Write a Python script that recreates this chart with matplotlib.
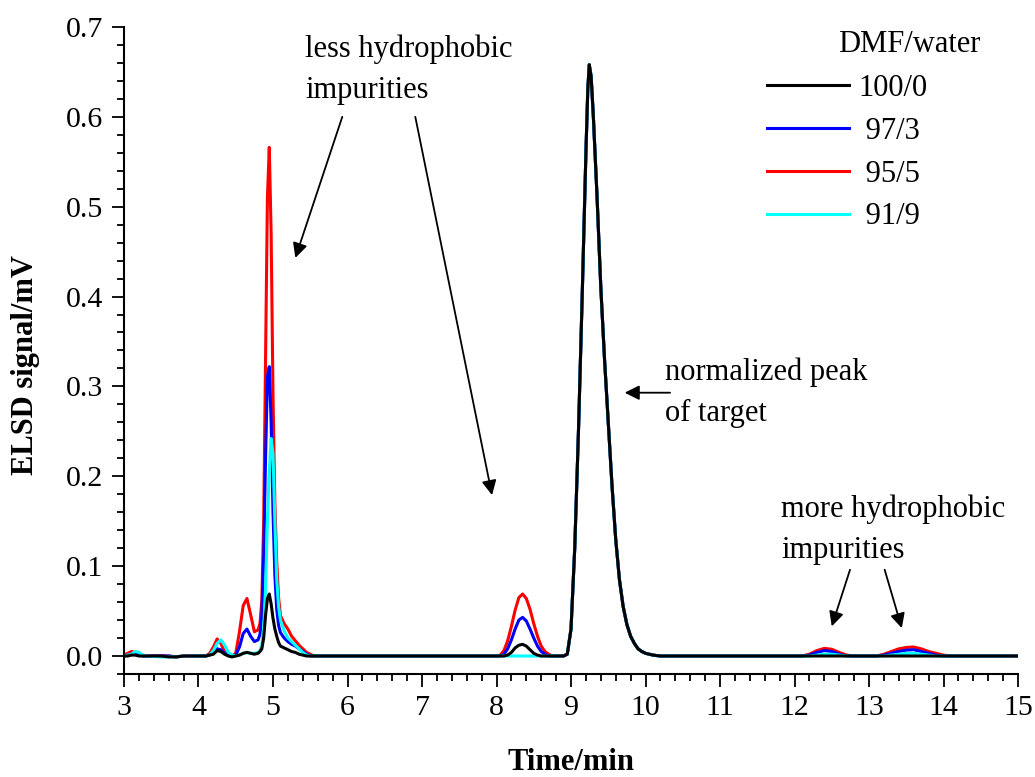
#ELSD chromatograms of the crude product in different DMF/water ratios
import numpy as np
import matplotlib
matplotlib.use('Agg')
import matplotlib.pyplot as plt
from matplotlib.ticker import MultipleLocator, FormatStrFormatter

plt.rcParams['font.family'] = ['Liberation Serif', 'DejaVu Serif']

#time points (min), one list per region of the run
t_early = [3.0, 3.05, 3.1, 3.15, 3.2, 3.25, 3.3,
           3.5, 3.6, 3.7, 3.8, 3.9, 4.0,
           4.1, 4.15, 4.2, 4.25, 4.3, 4.35, 4.4, 4.45, 4.5, 4.55, 4.6, 4.65, 4.7, 4.75, 4.8,
           4.825, 4.85, 4.875, 4.9, 4.925, 4.95, 4.975, 5.0, 5.025, 5.05, 5.075, 5.1,
           5.15, 5.2, 5.25, 5.3, 5.35, 5.4, 5.45, 5.5, 5.55,
           6.0, 7.0]
t_mid = [7.9, 8.0, 8.05, 8.1, 8.15, 8.2, 8.25, 8.3, 8.35, 8.4, 8.45, 8.5, 8.55, 8.6,
         8.65, 8.7, 8.75, 8.8]
t_main = [8.85, 8.9, 8.95, 9.0, 9.05, 9.1, 9.15, 9.2, 9.225, 9.245, 9.27, 9.3, 9.35,
          9.4, 9.45, 9.5, 9.55, 9.6, 9.65, 9.7, 9.75, 9.8, 9.85, 9.9, 9.95, 10.0, 10.1, 10.2]
t_late = [10.5, 11.0, 11.5, 12.0, 12.1, 12.2, 12.3, 12.4, 12.5, 12.6, 12.7, 12.8, 13.0,
          13.1, 13.2, 13.3, 13.4, 13.5, 13.6, 13.7, 13.8, 13.9, 14.0, 14.1, 14.2, 14.5, 15.0]

#ELSD signal (mV)
early_100_0 = [0, 0, .001, .001, 0, 0, 0,
               0, -.001, -.001, 0, 0, 0,
               0, .001, .002, .006, .005, .002, 0, -.001, 0, .001, .003, .004, .003, .002, .003,
               .005, .008, .020, .045, .064, .069, .058, .042, .030, .022, .015, .011,
               .009, .007, .005, .004, .002, .001, 0, 0, 0,
               0, 0]
early_97_3 = [0, .001, .002, .003, .001, 0, 0,
              0, 0, -.001, 0, 0, 0,
              0, .001, .005, .008, .007, .003, .001, 0, .001, .010, .025, .030, .022, .016, .018,
              .024, .045, .110, .220, .310, .322, .260, .160, .090, .052, .034, .026,
              .020, .016, .013, .011, .008, .005, .002, 0, 0,
              0, 0]
early_95_5 = [.001, .003, .005, .004, .002, .001, 0,
              0, 0, -.001, 0, 0, 0,
              0, .003, .010, .019, .014, .005, .001, 0, .003, .027, .056, .064, .046, .027, .029,
              .036, .062, .150, .330, .510, .566, .470, .290, .170, .105, .065, .045,
              .036, .030, .022, .017, .012, .008, .004, .002, 0,
              0, 0]
early_91_9 = [0, .001, .002, .005, .004, .001, 0,
              -.001, -.001, -.001, 0, 0, 0,
              0, .001, .006, .014, .018, .012, .004, .001, 0, .001, .003, .004, .003, .003, .004,
              .006, .012, .030, .075, .150, .205, .242, .225, .150, .085, .055, .040,
              .028, .020, .016, .012, .008, .004, .001, 0, 0,
              0, 0]

mid_100_0 = [0, 0, 0, 0, .001, .004, .009, .012, .013, .011, .007, .003, .001, 0, 0, 0, 0, 0]
mid_97_3 = [0, 0, 0, .002, .008, .018, .030, .040, .043, .039, .030, .020, .011, .005, .002, 0, 0, 0]
mid_95_5 = [0, 0, .001, .006, .017, .033, .051, .065, .069, .064, .052, .036, .022, .011, .005, .002, 0, 0]
mid_91_9 = [0, 0, 0, 0, 0, 0, 0, 0, 0, 0, 0, 0, 0, 0, 0, 0, 0, 0]

#target peak, normalized to the same height in every run
target_peak = [0, 0, .002, .03, .12, .25, .40, .56, .63, .658, .645, .60, .51,
               .41, .33, .26, .19, .13, .085, .055, .035, .022, .014, .008, .005, .003, .001, 0]

late_100_0 = [0] * 27
late_97_3 = [0, 0, 0, 0, 0, .001, .004, .006, .005, .002, 0, 0, 0,
             0, .001, .003, .005, .0065, .007, .005, .003, .001, 0, 0, 0, 0, 0]
late_95_5 = [0, 0, 0, 0, 0, .002, .006, .0085, .0075, .004, .001, 0, 0,
             0, .002, .005, .008, .0095, .010, .008, .005, .003, .001, 0, 0, 0, 0]
late_91_9 = [0, 0, 0, 0, 0, 0, .001, .002, .002, .001, 0, 0, 0,
             0, 0, .001, .002, .003, .003, .002, .001, 0, 0, 0, 0, 0, 0]

labels = ['100/0', ' 97/3', ' 95/5', ' 91/9']
colors = ['#000000', '#0000ff', '#ff0000', '#00ffff']
early = [early_100_0, early_97_3, early_95_5, early_91_9]
mid = [mid_100_0, mid_97_3, mid_95_5, mid_91_9]
late = [late_100_0, late_97_3, late_95_5, late_91_9]

time = np.array(t_early + t_mid + t_main + t_late)

fig = plt.figure(figsize=(10.35, 7.77), dpi=100)
ax = fig.add_axes([0.1198, 0.1326, 0.8638, 0.8327])

handles = [None] * 4
for i in [2, 1, 3, 0]:
    sig = np.array(early[i] + mid[i] + target_peak + late[i])
    line, = ax.plot(time, sig, color=colors[i], lw=2.2, solid_joinstyle='round')
    handles[i] = line

ax.set_xlim(3, 15)
ax.set_ylim(-0.02, 0.7)
ax.xaxis.set_major_locator(MultipleLocator(1))
ax.xaxis.set_minor_locator(MultipleLocator(0.2))
ax.yaxis.set_major_locator(MultipleLocator(0.1))
ax.yaxis.set_minor_locator(MultipleLocator(0.02))
ax.yaxis.set_major_formatter(FormatStrFormatter('%.1f'))
ax.spines['top'].set_visible(False)
ax.spines['right'].set_visible(False)
ax.spines['left'].set_linewidth(1.5)
ax.spines['bottom'].set_linewidth(1.5)
ax.tick_params(which='major', direction='out', length=9, width=1.3, labelsize=21.5, pad=6)
ax.tick_params(which='minor', direction='out', length=5, width=1.3)

ax.set_xlabel('Time/min', fontsize=22, fontweight='bold')
ax.set_ylabel('ELSD signal/mV', fontsize=22, fontweight='bold')
ax.xaxis.set_label_coords(0.5, -0.115)
ax.yaxis.set_label_coords(-0.094, 0.478)

#annotations
txt = dict(fontsize=22, linespacing=1.55)
arr = dict(arrowstyle='-|>', color='black', lw=1.3, mutation_scale=22, shrinkA=0, shrinkB=0)
ax.text(5.43, 0.652, 'less hydrophobic\nimpurities', ha='left', va='center', **txt)
ax.annotate('', xy=(5.3, 0.443), xytext=(5.93, 0.600), arrowprops=arr)
ax.annotate('', xy=(7.94, 0.179), xytext=(6.91, 0.600), arrowprops=arr)
ax.text(10.26, 0.293, 'normalized peak\nof target', ha='left', va='center', **txt)
ax.annotate('', xy=(9.72, 0.293), xytext=(10.33, 0.293), arrowprops=arr)
ax.text(11.82, 0.140, 'more hydrophobic\nimpurities', ha='left', va='center', **txt)
ax.annotate('', xy=(12.5, 0.033), xytext=(12.745, 0.096), arrowprops=arr)
ax.annotate('', xy=(13.44, 0.031), xytext=(13.21, 0.096), arrowprops=arr)

#legend
fig.text(838 / 1035, 1 - 45 / 777, 'DMF/water', fontsize=22, ha='left', va='center')
ax.legend(handles, labels, loc='upper left', bbox_to_anchor=(767 / 1035, 1 - 74 / 777),
          bbox_transform=fig.transFigure, frameon=False, fontsize=22, borderpad=0,
          borderaxespad=0, handlelength=2.68, handletextpad=0.3, labelspacing=0.45)

fig.savefig('out.png', dpi=100)
